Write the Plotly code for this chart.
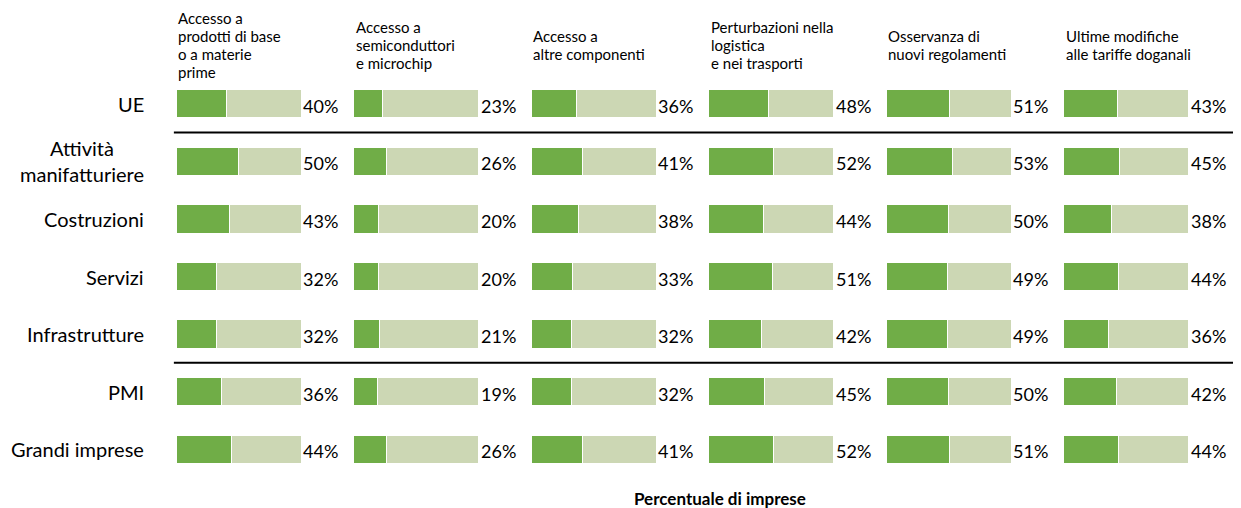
import plotly.graph_objects as go
from plotly.subplots import make_subplots

# Righe (categorie) e pannelli (ostacoli)
groups = ["UE", "Attività<br>manifatturiere", "Costruzioni", "Servizi",
          "Infrastrutture", "PMI", "Grandi imprese"]
panels = [
    ["Accesso a", "prodotti di base", "o a materie", "prime"],
    ["Accesso a", "semiconduttori", "e microchip"],
    ["Accesso a", "altre componenti"],
    ["Perturbazioni nella", "logistica", "e nei trasporti"],
    ["Osservanza di", "nuovi regolamenti"],
    ["Ultime modifiche", "alle tariffe doganali"],
]

# Percentuale di imprese per pannello, nell'ordine delle righe
materie_prime = [40, 50, 43, 32, 32, 36, 44]
semiconduttori = [23, 26, 20, 20, 21, 19, 26]
altre_componenti = [36, 41, 38, 33, 32, 32, 41]
logistica = [48, 52, 44, 51, 42, 45, 52]
regolamenti = [51, 53, 50, 49, 49, 50, 51]
tariffe = [43, 45, 38, 44, 36, 42, 44]

values = [materie_prime, semiconduttori, altre_componenti,
          logistica, regolamenti, tariffe]

DARK = "#70AD47"
LIGHT = "#CCD7B4"
FONT = "Lato"

# dimensioni (la pagina html aggiunge 8px di margine al body)
W, H = 1233, 500
M_L, M_T, M_B = 168, 67, 30
PLOT_H = H - M_T - M_B


def paper_y(px):
    # pixel dall'alto della figura -> coordinate paper
    return (H - M_B - px) / PLOT_H


fig = make_subplots(rows=1, cols=len(panels), shared_yaxes=True,
                    horizontal_spacing=0)

for i, vals in enumerate(values, start=1):
    rest = [100 - v for v in vals]
    fig.add_trace(go.Bar(y=groups, x=vals, orientation="h",
                         marker=dict(color=DARK, line=dict(color="white", width=1)),
                         showlegend=False, hoverinfo="x+y"), row=1, col=i)
    fig.add_trace(go.Bar(y=groups, x=rest, orientation="h",
                         marker=dict(color=LIGHT, line=dict(color="white", width=1)),
                         showlegend=False, hoverinfo="skip"), row=1, col=i)
    xref = "x" if i == 1 else f"x{i}"
    for g, v in zip(groups, vals):
        fig.add_annotation(x=100, y=g, xref=xref, yref="y", text=f"{v}%",
                           xanchor="left", yanchor="middle", xshift=0, yshift=-2,
                           showarrow=False, font=dict(size=18, color="black", family=FONT))
    # intestazione del pannello, una riga alla volta
    dom = "x domain" if i == 1 else f"x{i} domain"
    lines = panels[i - 1]
    n = len(lines)
    for k, line in enumerate(lines):
        ypx = 37 + (k - (n - 1) / 2) * 18
        fig.add_annotation(x=0, y=paper_y(ypx), xref=dom, yref="paper", text=line,
                           xanchor="left", yanchor="middle", align="left",
                           showarrow=False,
                           font=dict(size=15, color="black", family=FONT))
    fig.update_xaxes(range=[0, 142], visible=False, row=1, col=i)

# Etichette delle righe
for g in groups:
    fig.add_annotation(x=-0.028, y=g, xref="paper", yref="y", text=g,
                       xanchor="right", yanchor="middle", align="center",
                       showarrow=False, font=dict(size=20, color="black", family=FONT))

# Linee di separazione
for yy in [0.5, 4.5]:
    fig.add_shape(type="line", xref="paper", yref="y", x0=-0.002, x1=1, y0=yy, y1=yy,
                  line=dict(color="black", width=2))

fig.add_annotation(x=0.511, y=paper_y(490), xref="paper", yref="paper",
                   text="<b>Percentuale di imprese</b>", showarrow=False,
                   xanchor="center", yanchor="middle",
                   font=dict(size=17, color="black", family=FONT))

fig.update_yaxes(autorange="reversed", showticklabels=False, showgrid=False,
                 zeroline=False)
fig.update_layout(
    barmode="stack",
    bargap=0.51,
    width=W,
    height=H,
    margin=dict(l=M_L, r=0, t=M_T, b=M_B),
    plot_bgcolor="white",
    paper_bgcolor="white",
    font=dict(family=FONT, color="black"),
)

fig.write_html("out.html")
